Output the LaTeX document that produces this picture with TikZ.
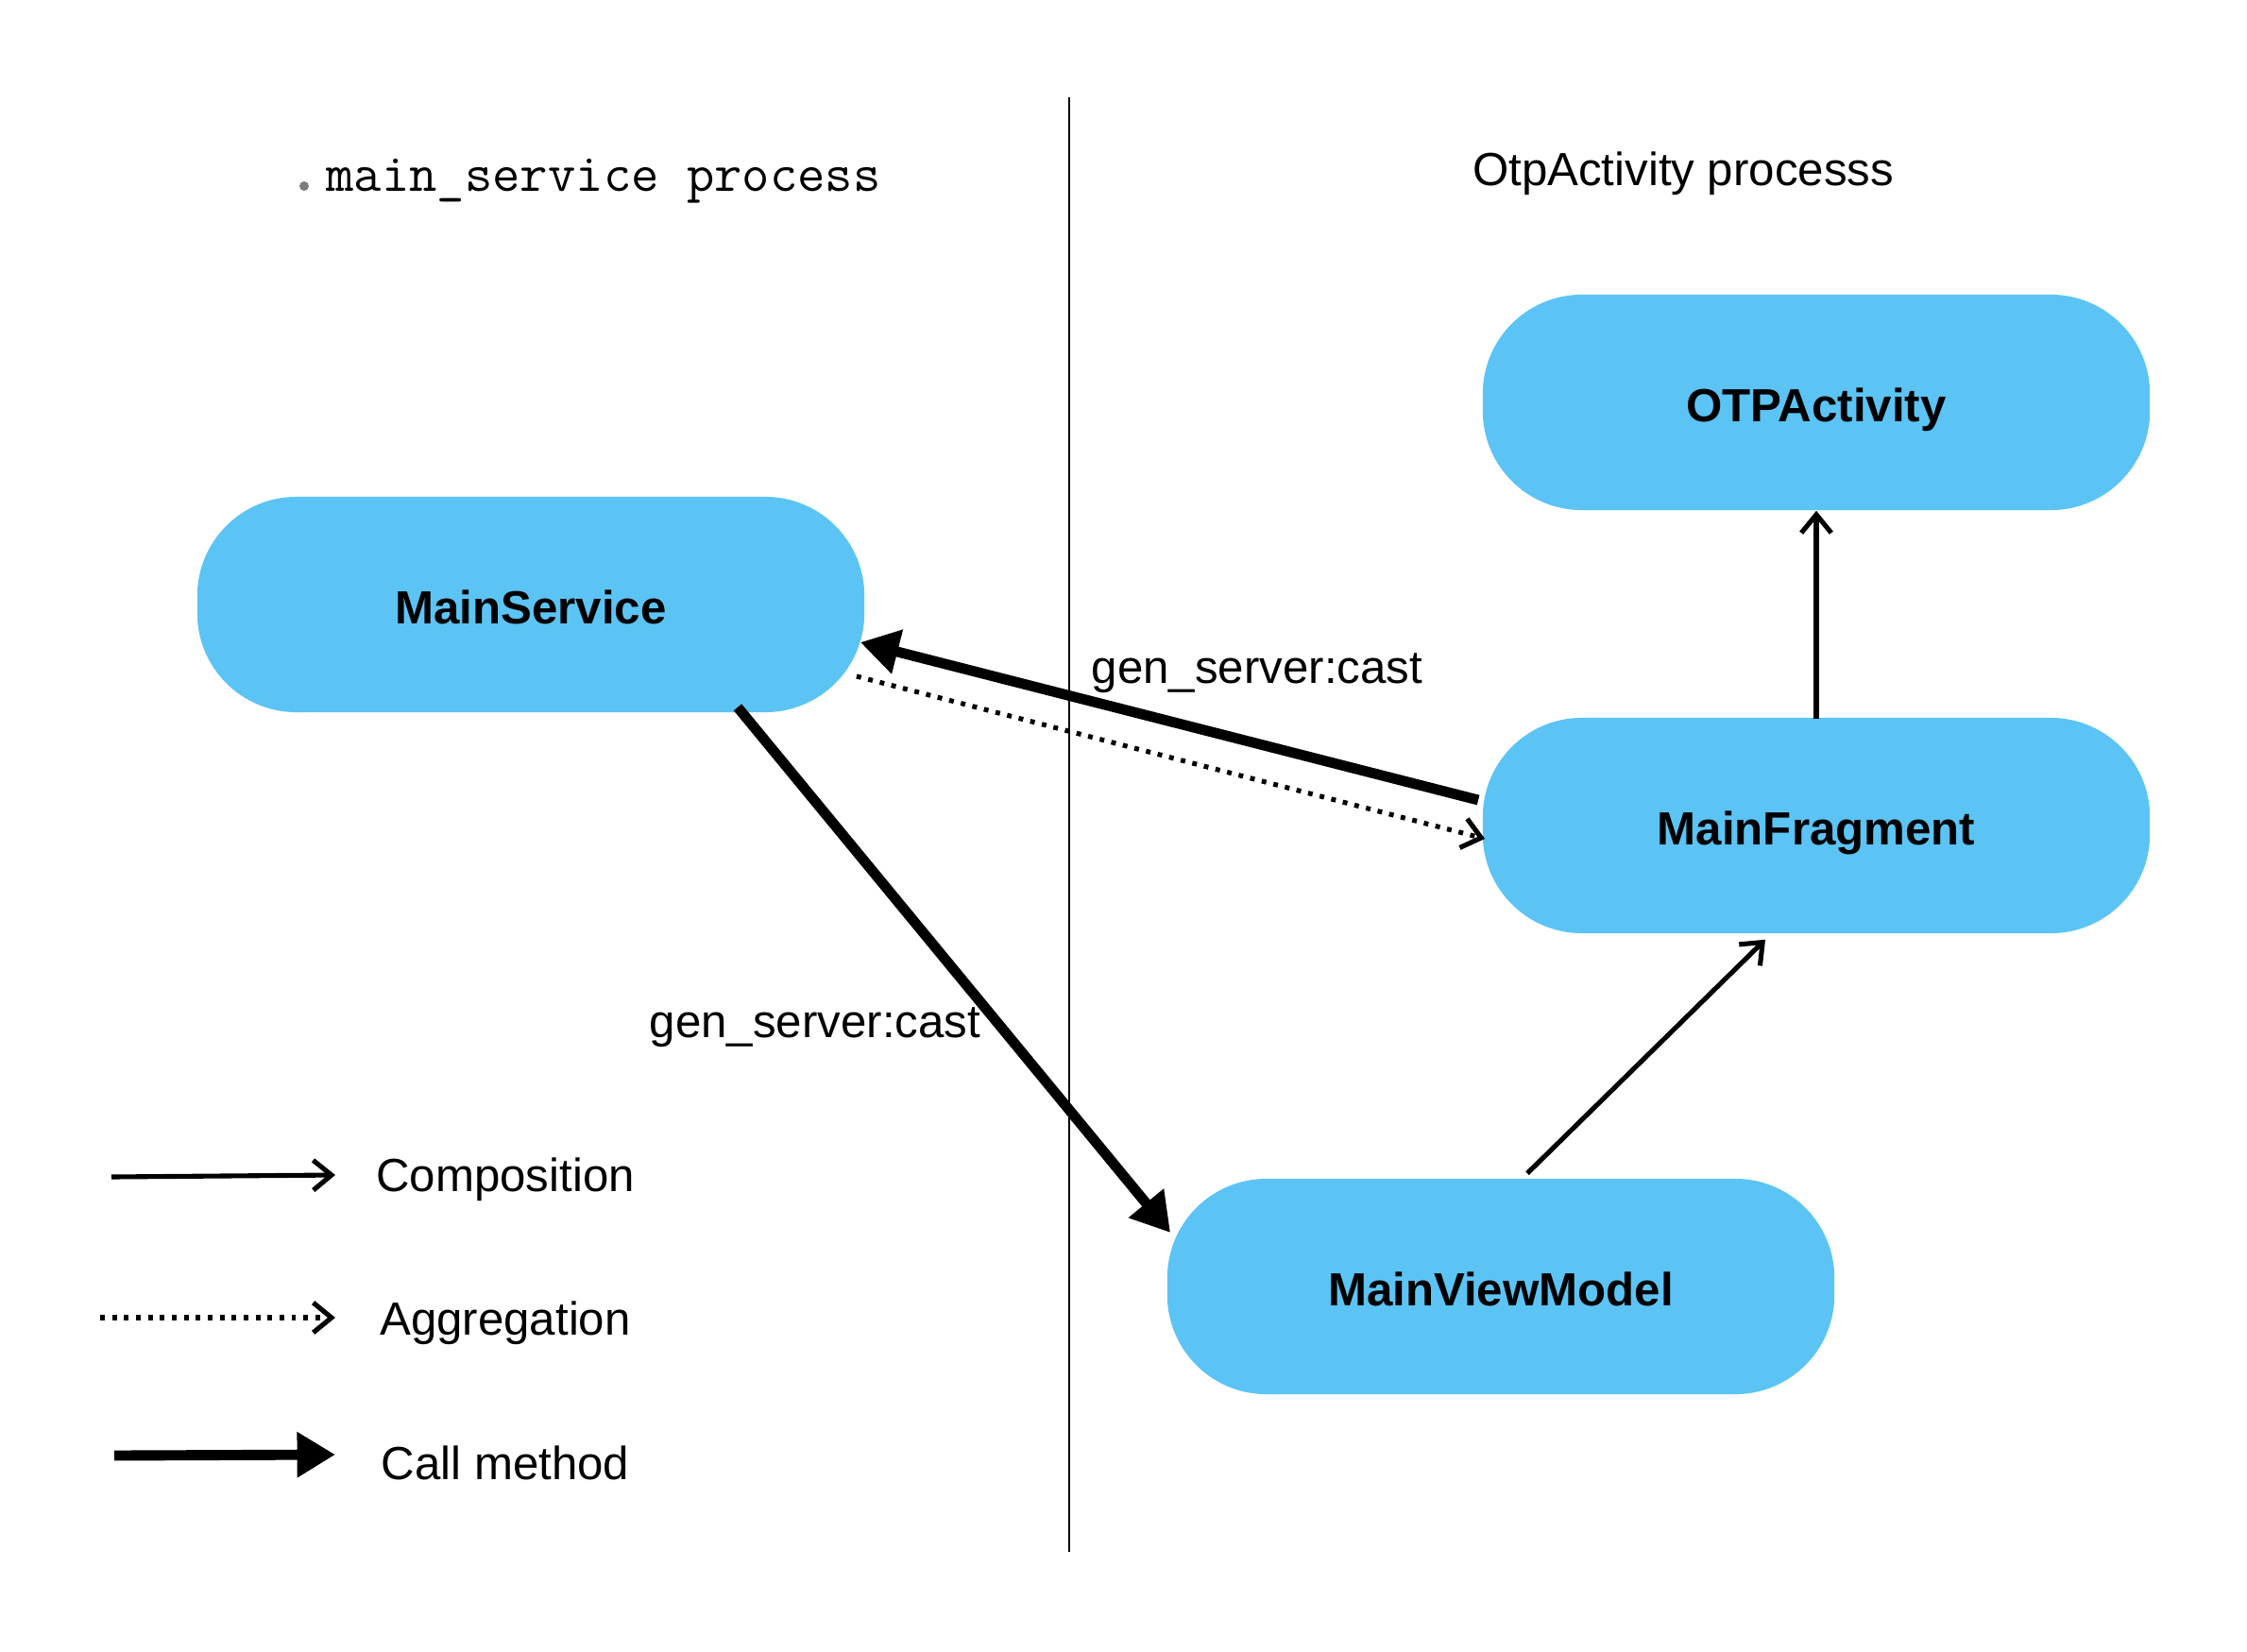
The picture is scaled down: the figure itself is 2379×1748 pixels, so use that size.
\documentclass[tikz,border=0pt]{standalone}
\usepackage{fontspec}
\setmainfont{Liberation Sans}
\usetikzlibrary{arrows.meta,calc}
\definecolor{boxblue}{RGB}{91,196,245}
\definecolor{dotgray}{RGB}{125,125,125}
\tikzset{
  box/.style={rectangle, fill=boxblue, rounded corners=1.05cm, minimum width=7.06cm, minimum height=2.28cm, inner sep=0pt, text height=11.7pt, text depth=0pt, font=\fontsize{14}{17}\selectfont\bfseries},
  lbl/.style={inner sep=0pt, font=\fontsize{14}{17}\selectfont},
  thin/.style={line width=1.45pt, -{Straight Barb[length=5.5pt,width=9pt]}},
  dotline/.style={line width=1.45pt, dash pattern=on 1.4pt off 2.2pt, -{Straight Barb[length=5.5pt,width=9pt]}},
  callline/.style={line width=3.1pt, -{Triangle[length=11.5pt,width=13pt]}},
}
\begin{document}
\begin{tikzpicture}[x=0.01cm, y=-0.01cm]
\useasboundingbox (0,0) rectangle (2379,1748);
% divider
\coordinate (dtop) at (1132,103);
\coordinate (dbot) at (1132,1643);
\draw[line width=0.6pt] (dtop) -- (dbot);
% titles
\fill[dotgray] (322,197) circle (5);
\node[inner sep=0pt, font=\fontsize{16.2}{19}\selectfont\ttfamily] (t1) at (639,192) {main\_service process};
\node[lbl] (t2) at (1782,184) {OtpActivity processs};
% boxes
\node[box] (ms) at (562,640) {MainService};
\node[box] (otp) at (1923,426) {OTPActivity};
\node[box] (mf) at (1923,874) {MainFragment};
\node[box] (mvm) at (1589,1362) {MainViewModel};
% connectors
\draw[callline] ($(mf.west)+(-4,-27)$) -- ($(ms.east)+(-5,40)$);
\draw[callline] ($(ms.south)+(219,-6)$) -- ($(mvm.west)+(4,-57)$);
\draw[dotline] ($(ms.east)+(-9,76)$) -- ($(mf.west)+(3,14)$);
\draw[thin] ($(mf.north)+(0,2)$) -- (otp.south);
\draw[thin] ($(mvm.north)+(28,-5)$) -- ($(mf.south)+(-54,6)$);
% labels
\node[lbl] (l1) at (1331,713) {gen\_server:cast};
\node[lbl] (l2) at (863,1088) {gen\_server:cast};
% legend
\coordinate (c1a) at (118,1246); \coordinate (c1b) at (355,1244);
\coordinate (c2a) at (106,1395); \coordinate (c2b) at (355,1395);
\coordinate (c3a) at (121,1541); \coordinate (c3b) at (355,1540);
\draw[thin] (c1a) -- (c1b);
\draw[dotline] (c2a) -- (c2b);
\draw[callline] (c3a) -- (c3b);
\node[lbl] (g1) at (535,1249) {Composition};
\node[lbl] (g2) at (535,1401) {Aggregation};
\node[lbl] (g3) at (535,1549) {Call method};
\end{tikzpicture}
\end{document}
